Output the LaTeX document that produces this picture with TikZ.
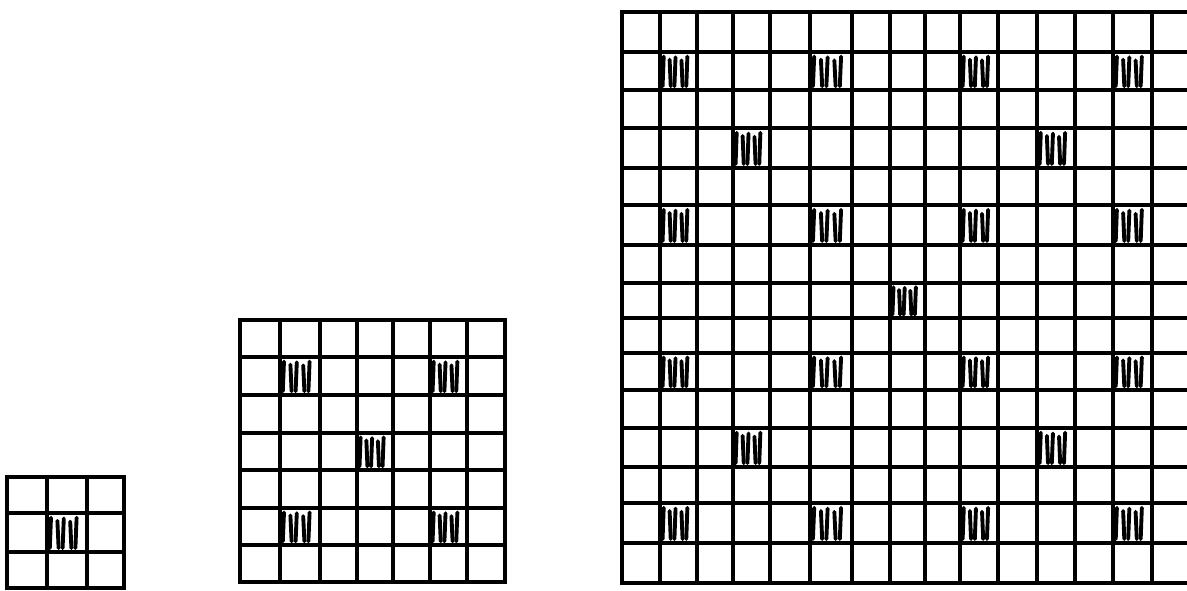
\documentclass[tikz,border=0pt]{standalone}
\begin{document}
\begin{tikzpicture}[x=0.1mm,y=-0.1mm,
  gridline/.style={line width=1.1pt, line cap=rect},
  hatchline/.style={line width=1.1pt, line cap=round}]
\useasboundingbox (0,0) rectangle (1187,590);
\clip (0,0) rectangle (1187,590);
\fill[white] (0,0) rectangle (1187,590);
% hatched cells: x0/x1/y0/y1
\newcommand\hatchcells[1]{%
  \foreach \xa/\xb/\ya/\yb in {#1} {
    \foreach \f/\t/\s in {0.10/0.12/-1,0.26/0.20/1,0.42/0.14/-1,0.58/0.22/1,0.74/0.12/-1} {
      \pgfmathsetmacro\hx{\xa+(\xb-\xa)*\f}
      \pgfmathsetmacro\hw{\xb-\xa}
      \draw[hatchline] (\hx,{\ya+(\yb-\ya)*\t}) -- ({\hx+\s*0.03*\hw},{\yb-(\yb-\ya)*0.1});
    }
  }}
% small 3x3 grid
\foreach \x in {7,47,87,124} \draw[gridline] (\x,477) -- (\x,588);
\foreach \y in {477,513,552,588} \draw[gridline] (7,\y) -- (124,\y);
\hatchcells{47/87/513/552}
% middle 7x7 grid
\foreach \x in {240,280,320,357,393,430,467,505} \draw[gridline] (\x,320) -- (\x,582);
\foreach \y in {320,357,395,433,470,508,545,582} \draw[gridline] (240,\y) -- (505,\y);
\hatchcells{280/320/357/395, 430/467/357/395, 357/393/433/470, 280/320/508/545, 430/467/508/545}
% large 15x15 grid
\foreach \x in {622,660,697,733,770,810,852,890,925,960,998,1037,1075,1113,1152,1190} \draw[gridline] (\x,12) -- (\x,583);
\foreach \y in {12,52,90,128,168,205,245,283,318,353,390,428,467,503,543,583} \draw[gridline] (622,\y) -- (1190,\y);
\hatchcells{660/697/52/90, 810/852/52/90, 960/998/52/90, 1113/1152/52/90,
  733/770/128/168, 1037/1075/128/168,
  660/697/205/245, 810/852/205/245, 960/998/205/245, 1113/1152/205/245,
  890/925/283/318,
  660/697/353/390, 810/852/353/390, 960/998/353/390, 1113/1152/353/390,
  733/770/428/467, 1037/1075/428/467,
  660/697/503/543, 810/852/503/543, 960/998/503/543, 1113/1152/503/543}
\end{tikzpicture}
\end{document}
